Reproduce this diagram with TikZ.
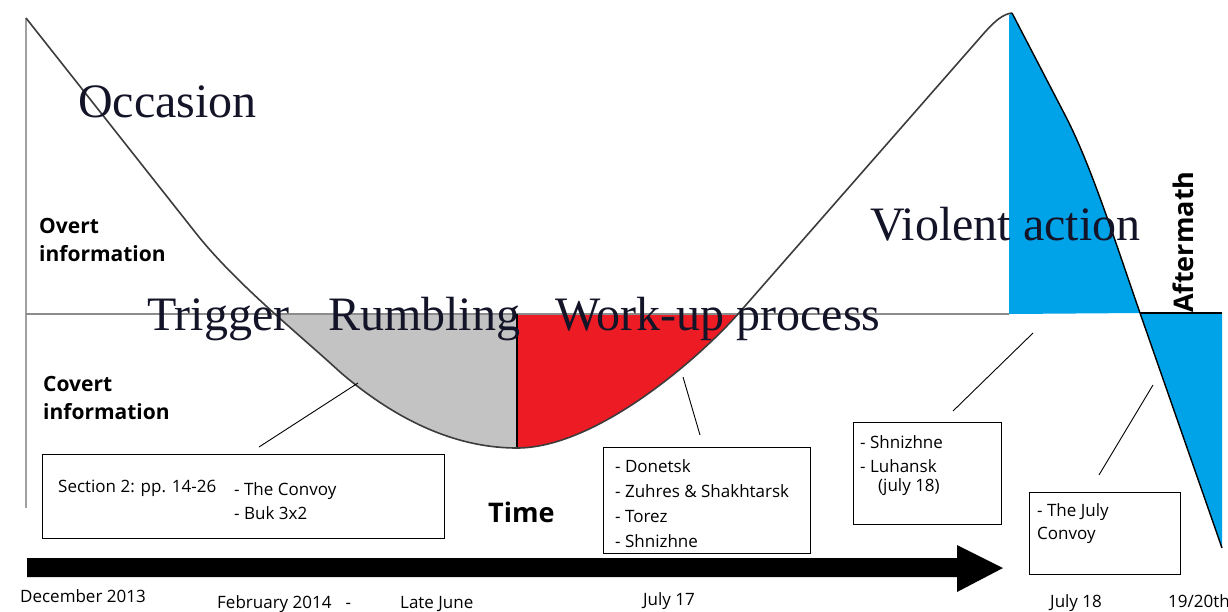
\documentclass[tikz,border=0pt]{standalone}
\usepackage{fontspec}
\newfontfamily\phasefont{Liberation Serif}
\newfontfamily\labelfont{Open Sans}
\definecolor{violentblue}{RGB}{0,162,232}
\definecolor{workred}{RGB}{237,28,36}
\definecolor{rumblegray}{RGB}{195,195,195}
\definecolor{axisgray}{RGB}{160,160,160}
\definecolor{levelgray}{RGB}{140,140,140}
\definecolor{curvegray}{RGB}{60,60,60}
\definecolor{phaseink}{RGB}{20,20,40}

% escalation curve: occasion -> trough -> peak of violent action
\def\escalation{(26,18) -- (195,232)
  .. controls (235,283) and (300,335) .. (340,372)
  .. controls (390,415) and (450,448) .. (517,448)
  .. controls (597,448) and (700,357) .. (738,314)
  -- (985,32) .. controls (995,21) and (1003,14) .. (1012,13)}
% falling edge after the peak
\def\aftermathedge{(1012,13) -- (1065,115)
  .. controls (1090,163) and (1113,235) .. (1140,313)}

\tikzset{
  phase/.style={font=\phasefont\fontsize{48}{48}\selectfont, text=phaseink, inner sep=0pt, anchor=base west},
  sidelabel/.style={font=\labelfont\bfseries\fontsize{21}{21}\selectfont, inner sep=0pt, anchor=base west},
  boxtext/.style={font=\labelfont\fontsize{17}{17}\selectfont, inner sep=0pt, anchor=base west},
  datelabel/.style={font=\labelfont\fontsize{17}{17}\selectfont, inner sep=0pt, anchor=base west},
  infobox/.style={draw=black, line width=1.2pt, anchor=north west, inner sep=0pt},
  pointer/.style={draw=black, line width=0.9pt},
}

\begin{document}
\begin{tikzpicture}[x=1pt,y=-1pt]
\useasboundingbox (0,0) rectangle (1228,611);
\fill[white] (0,0) rectangle (1228,611);

% shaded phases under the information level
\begin{scope}
  \clip \escalation -- cycle;
  \fill[rumblegray] (0,314) rectangle (517,470);
  \fill[workred] (517,314) rectangle (760,470);
\end{scope}
\fill[violentblue] (1009,314) -- (1009,15) -- \aftermathedge -- cycle;
\fill[violentblue] (1140,313) -- (1222,313) -- (1222,548) -- cycle;

% axes and level line
\draw[axisgray, line width=2.5pt] (26,18) -- (26,508);
\draw[levelgray, line width=2pt] (26,314) -- (1009,314);
\draw[black, line width=1.2pt] (1140,313) -- (1222,313);
\draw[black, line width=1.2pt] (517,314) -- (517,448);

% curve
\draw[curvegray, line width=1.6pt, line join=round] \escalation;
\draw[black, line width=1.4pt, line join=round] \aftermathedge -- (1222,548);

% time arrow
\fill[black] (27,558) -- (957,558) -- (957,545) -- (1003,568) -- (957,592) -- (957,577) -- (27,577) -- cycle;

% phase names
\node[phase] (occasion) at (78,117) {Occasion};
\node[phase] (trigger) at (147,330) {Trigger};
\node[phase] (rumbling) at (328,330) {Rumbling};
\node[phase] (workup) at (555,330) {Work-up process};
\node[phase] (violent) at (870,240) {Violent action};
\node[sidelabel, rotate=90, font=\labelfont\bfseries\fontsize{27}{27}\selectfont] (aftermath) at (1193,313) {Aftermath};

% information levels
\node[sidelabel] (overt1) at (39,233) {Overt};
\node[sidelabel] (overt2) at (39,261) {information};
\node[sidelabel] (covert1) at (43,391) {Covert};
\node[sidelabel] (covert2) at (43,419) {information};
\node[sidelabel, font=\labelfont\bfseries\fontsize{27}{27}\selectfont] (time) at (488,522) {Time};

% info boxes
\node[infobox, minimum width=402pt, minimum height=84pt] (box1) at (42,454) {};
\node[boxtext] (sec) at (58,492) {Section 2: pp. 14-26};
\node[boxtext] (convoy) at (234,495) {- The Convoy};
\node[boxtext] (buk) at (234,519) {- Buk 3x2};

\node[infobox, minimum width=207pt, minimum height=106pt] (box2) at (603,447) {};
\node[boxtext] (donetsk) at (615,472) {- Donetsk};
\node[boxtext] (zuhres) at (615,497) {- Zuhres \& Shakhtarsk};
\node[boxtext] (torez) at (615,522) {- Torez};
\node[boxtext] (shn1) at (615,547) {- Shnizhne};

\node[infobox, minimum width=148pt, minimum height=102pt] (box3) at (853,422) {};
\node[boxtext] (shn2) at (860,448) {- Shnizhne};
\node[boxtext] (luhansk) at (860,472) {- Luhansk};
\node[boxtext] (july18b) at (878,491) {(july 18)};

\node[infobox, minimum width=151pt, minimum height=82pt] (box4) at (1029,492) {};
\node[boxtext] (julyconvoy) at (1037,516) {- The July};
\node[boxtext] (julyconvoy2) at (1037,539) {Convoy};

% pointers from boxes to the curve
\coordinate (p1a) at (259,447); \coordinate (p1b) at (358,383);
\coordinate (p2a) at (700,435); \coordinate (p2b) at (683,377);
\coordinate (p3a) at (953,411); \coordinate (p3b) at (1033,333);
\coordinate (p4a) at (1099,475); \coordinate (p4b) at (1153,385);
\draw[pointer] (p1a) -- (p1b);
\draw[pointer] (p2a) -- (p2b);
\draw[pointer] (p3a) -- (p3b);
\draw[pointer] (p4a) -- (p4b);

% dates along the time axis
\node[datelabel] (d1) at (20,602) {December 2013};
\node[datelabel] (d2) at (217,608) {February 2014\hspace{14pt}-};
\node[datelabel] (d3) at (400,608) {Late June};
\node[datelabel] (d4) at (643,605) {July 17};
\node[datelabel] (d5) at (1050,607) {July 18};
\node[datelabel] (d6) at (1168,607) {19/20th};
\end{tikzpicture}
\end{document}
